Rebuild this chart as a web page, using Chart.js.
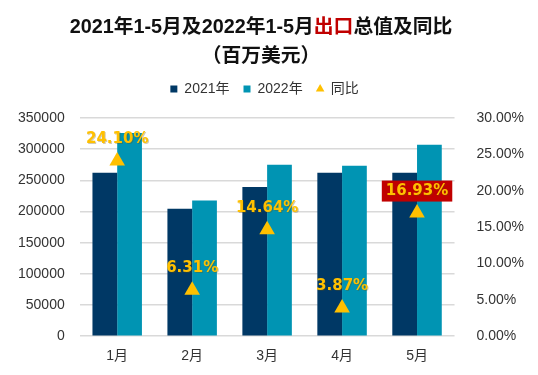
<!DOCTYPE html>
<html><head><meta charset="utf-8">
<script src="https://cdn.jsdelivr.net/npm/chart.js@4/dist/chart.umd.min.js"></script>
<style>
html,body{margin:0;padding:0;background:#fff;}
#wrap{position:relative;width:538px;height:375px;}
#title{position:absolute;left:-8px;top:12px;width:538px;text-align:center;font-family:"Liberation Sans","Noto Sans CJK SC",sans-serif;font-weight:bold;font-size:19.8px;line-height:29px;color:#111;}
#title .red{color:#C00000;}
canvas{position:absolute;left:0;top:0;}
</style></head><body>
<div id="wrap">
<canvas id="c" width="538" height="375"></canvas>
<div id="title">2021年1-5月及2022年1-5月<span class="red">出口</span>总值及同比<br>（百万美元）</div>
</div>
<script>
const categories = ['1月','2月','3月','4月','5月'];
const exports2021 = [262000, 204500, 239500, 262000, 262000];
const exports2022 = [326000, 217500, 275000, 273500, 307000];
const yoyPct = [24.10, 6.31, 14.64, 3.87, 16.93];
const leftTicks = [0,50000,100000,150000,200000,250000,300000,350000];

const FONT = '"Liberation Sans","Noto Sans CJK SC",sans-serif';
const LFONT = '"DejaVu Sans","Noto Sans CJK SC",sans-serif';

const legendSpace = {
  id:'legendSpace',
  beforeInit(chart){
    const fit = chart.legend.fit;
    chart.legend.fit = function(){ fit.bind(chart.legend)(); this.height += 12; };
  },
  afterLayout(chart){
    chart.legend.left -= 6; chart.legend.right -= 6;
  }
};

const labelPlugin = {
  id:'yoyLabels',
  afterDatasetsDraw(chart){
    const meta = chart.getDatasetMeta(2);
    const ctx = chart.ctx;
    ctx.save();
    ctx.font = 'bold 15px ' + LFONT;
    ctx.textAlign = 'center';
    ctx.textBaseline = 'middle';
    meta.data.forEach((pt, i) => {
      const txt = yoyPct[i].toFixed(2) + '%';
      const x = pt.x, y = pt.y - 22;
      if (i === 4) {
        const w = ctx.measureText(txt).width + 8;
        ctx.fillStyle = '#C00000';
        ctx.fillRect(x - w/2, y - 10.5, w, 21);
      }
      ctx.fillStyle = 'rgba(110,80,0,0.3)';
      ctx.fillText(txt, x + 1, y + 1);
      ctx.fillStyle = '#FFC000';
      ctx.fillText(txt, x, y);
    });
    ctx.restore();
  }
};

new Chart(document.getElementById('c'), {
  type:'bar',
  data:{
    labels:categories,
    datasets:[
      {label:'2021年', data:exports2021, backgroundColor:'#003865', yAxisID:'y', order:2,
       categoryPercentage:0.66, barPercentage:1.0},
      {label:'2022年', data:exports2022, backgroundColor:'#0094B3', yAxisID:'y', order:2,
       categoryPercentage:0.66, barPercentage:1.0},
      {label:'同比', type:'line', data:yoyPct, yAxisID:'y1', showLine:false, order:1,
       pointStyle:'triangle', pointRadius:9, pointHoverRadius:9,
       backgroundColor:'#FFC000', borderColor:'#FFC000', borderWidth:0}
    ]
  },
  options:{
    responsive:false, animation:false,
    layout:{padding:{top:68, left:3, right:0, bottom:6}},
    plugins:{
      title:{display:false},
      tooltip:{enabled:false},
      legend:{display:true, position:'top',
        labels:{font:{family:FONT,size:14}, color:'#333', usePointStyle:true, boxWidth:7, boxHeight:7, padding:14,
          generateLabels(chart){
            return chart.data.datasets.map((ds,i)=>({
              text:ds.label, fillStyle:ds.backgroundColor, strokeStyle:ds.backgroundColor, lineWidth:0,
              pointStyle: i===2 ? 'triangle' : 'rect', datasetIndex:i, hidden:false, fontColor:'#333'
            }));
          }}}
    },
    scales:{
      x:{grid:{display:false}, border:{display:false},
         ticks:{font:{family:FONT,size:14}, color:'#333', padding:4}},
      y:{position:'left', min:0, max:350000, afterBuildTicks(ax){ax.ticks = leftTicks.map(v=>({value:v}));},
         grid:{color:'#D9D9D9', lineWidth:1.5, drawTicks:false}, border:{display:false},
         ticks:{font:{family:FONT,size:14}, color:'#333', padding:15, callback:v=>String(v)}},
      y1:{position:'right', min:0, max:30, grid:{display:false}, border:{display:false},
         ticks:{stepSize:5, font:{family:FONT,size:14}, color:'#333', padding:14, callback:v=>v.toFixed(2)+'%'}}
    }
  },
  plugins:[legendSpace, labelPlugin]
});
</script>
</body></html>
